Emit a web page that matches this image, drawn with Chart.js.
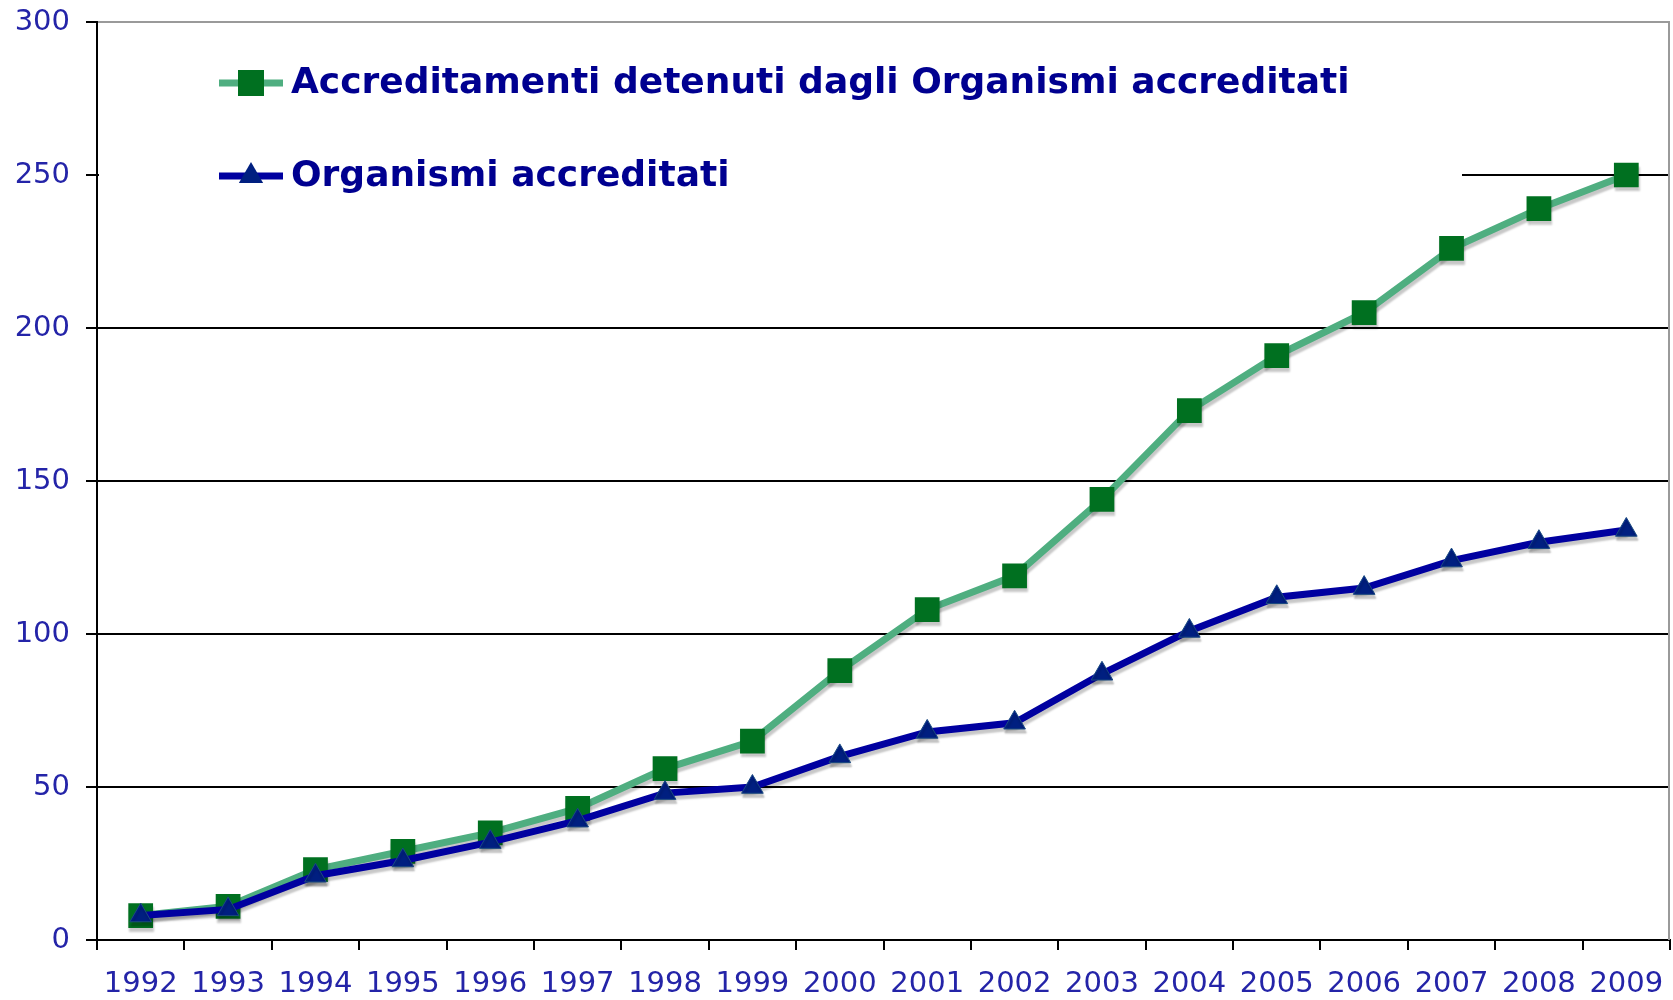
<!DOCTYPE html>
<html>
<head>
<meta charset="utf-8">
<script src="https://cdn.jsdelivr.net/npm/chart.js@4/dist/chart.umd.min.js"></script>
<style>
  html, body { margin: 0; padding: 0; background: #fff; overflow: hidden; }
  #wrap { width: 1673px; height: 1000px; position: relative; }
  canvas { display: block; }
</style>
</head>
<body>
<div id="wrap"><canvas id="c" width="1673" height="1000"></canvas></div>
<script>
// ---- data ----
const years = ['1992','1993','1994','1995','1996','1997','1998','1999','2000','2001','2002','2003','2004','2005','2006','2007','2008','2009'];
const accreditamenti = [8, 11, 23, 29, 35, 43, 56, 65, 88, 108, 119, 144, 173, 191, 205, 226, 239, 250];
const organismi = [8, 10, 21, 26, 32, 39, 48, 50, 60, 68, 71, 87, 101, 112, 115, 124, 130, 134];
const seriesLabels = ['Accreditamenti detenuti dagli Organismi accreditati', 'Organismi accreditati'];
const yTicks = [0, 50, 100, 150, 200, 250, 300];

const FONT = "'DejaVu Sans', Verdana, sans-serif";
const TICK_COLOR = '#2424a8';

function noPad(scale) {
  scale.paddingTop = 0; scale.paddingBottom = 0; scale.paddingLeft = 0; scale.paddingRight = 0;
}

const shadowPlugin = {
  id: 'shadow',
  beforeDatasetDraw(chart) {
    const ctx = chart.ctx;
    ctx.save();
    ctx.shadowColor = 'rgba(0,0,0,0.22)';
    ctx.shadowOffsetX = 1;
    ctx.shadowOffsetY = 4;
    ctx.shadowBlur = 2;
  },
  afterDatasetDraw(chart) { chart.ctx.restore(); }
};

const frameAndLegend = {
  id: 'frameAndLegend',
  beforeDatasetsDraw(chart) {
    const ctx = chart.ctx, a = chart.chartArea;
    ctx.save();
    // right frame line
    ctx.strokeStyle = '#9a9a9a';
    ctx.lineWidth = 2;
    ctx.beginPath();
    ctx.moveTo(a.right - 1, a.top);
    ctx.lineTo(a.right - 1, a.bottom);
    ctx.stroke();
    // legend background box
    ctx.fillStyle = '#ffffff';
    ctx.fillRect(a.left + 2, a.top + 3, 1462 - (a.left + 2), 215);
    // legend entries
    const rows = [83, 176];
    chart.data.datasets.forEach((ds, i) => {
      const y = rows[i];
      ctx.strokeStyle = ds.borderColor;
      ctx.lineWidth = 7;
      ctx.beginPath();
      ctx.moveTo(219, y);
      ctx.lineTo(283, y);
      ctx.stroke();
      ctx.fillStyle = ds.pointBackgroundColor;
      if (ds.pointStyle === 'rect') {
        ctx.fillRect(251 - 13, y - 13, 26, 26);
      } else {
        const r = 14;
        ctx.beginPath();
        ctx.moveTo(251, y - r);
        ctx.lineTo(251 + r * 0.866, y + r * 0.5);
        ctx.lineTo(251 - r * 0.866, y + r * 0.5);
        ctx.closePath();
        ctx.fill();
      }
      ctx.fillStyle = '#000090';
      ctx.font = 'bold 36px ' + FONT;
      ctx.textBaseline = 'middle';
      ctx.textAlign = 'left';
      ctx.fillText(ds.label, 291, y + 1);
    });
    ctx.restore();
  }
};

new Chart(document.getElementById('c'), {
  type: 'line',
  data: {
    labels: years,
    datasets: [
      {
        label: seriesLabels[0],
        data: accreditamenti,
        borderColor: '#4fae80',
        borderWidth: 7,
        pointStyle: 'rect',
        pointRadius: 17.5,
        pointBackgroundColor: '#007020',
        pointBorderColor: '#007020',
        pointBorderWidth: 0,
        tension: 0,
        order: 1
      },
      {
        label: seriesLabels[1],
        data: organismi,
        borderColor: '#0000a0',
        borderWidth: 7,
        pointStyle: 'triangle',
        pointRadius: 12.5,
        pointBackgroundColor: '#001f80',
        pointBorderColor: '#1a4a80',
        pointBorderWidth: 1,
        tension: 0,
        order: 0
      }
    ]
  },
  options: {
    responsive: false,
    devicePixelRatio: 1,
    animation: false,
    layout: { autoPadding: false, padding: { top: 22, right: 3, left: 0, bottom: 0 } },
    plugins: { legend: { display: false }, tooltip: { enabled: false } },
    scales: {
      x: {
        offset: true,
        grid: { display: true, drawOnChartArea: false, offset: true, color: '#000', tickColor: '#000', tickLength: 10, lineWidth: 2 },
        border: { display: true, color: '#000', width: 2 },
        ticks: { autoSkip: false, maxRotation: 0, minRotation: 0, color: TICK_COLOR, font: { family: FONT, size: 29 }, padding: 17 },
        afterFit(scale) { scale.height = 60; noPad(scale); }
      },
      y: {
        min: 0, max: 300,
        afterBuildTicks(scale) { scale.ticks = yTicks.map(v => ({ value: v })); },
        grid: {
          color: ctx => (ctx.tick && ctx.tick.value === 300) ? '#9a9a9a' : '#000',
          tickColor: '#000',
          tickLength: 11,
          lineWidth: 2
        },
        border: { display: true, color: '#000', width: 2 },
        ticks: { color: TICK_COLOR, font: { family: FONT, size: 29 }, padding: 16 },
        afterFit(scale) { scale.width = 97; noPad(scale); }
      }
    }
  },
  plugins: [shadowPlugin, frameAndLegend]
});
</script>
</body>
</html>
